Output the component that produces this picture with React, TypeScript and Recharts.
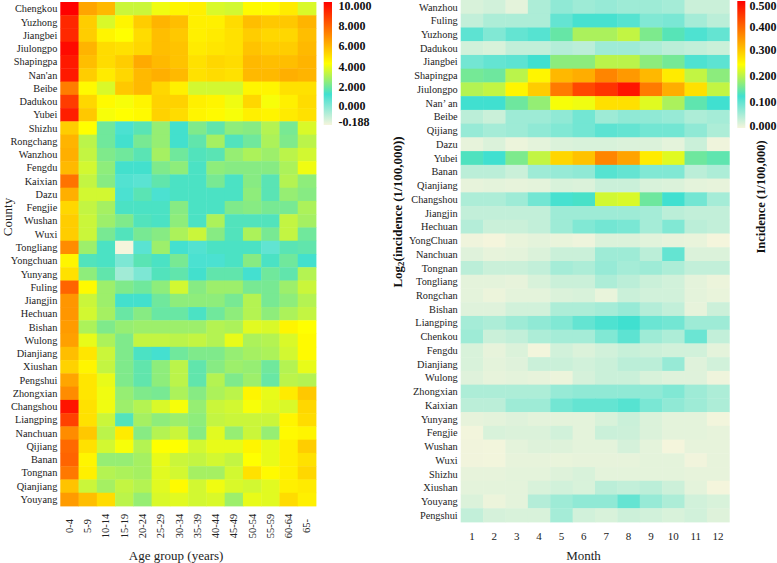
import React from 'react';
import { ScatterChart, Scatter, XAxis, YAxis } from 'recharts';

const ageGroups = ['0-4','5-9','10-14','15-19','20-24','25-29','30-34','35-39','40-44','45-49','50-54','55-59','60-64','65-'];
const months = ['1','2','3','4','5','6','7','8','9','10','11','12'];
const countiesLeft = ['Chengkou','Yuzhong','Jiangbei','Jiulongpo','Shapingpa',"Nan'an",'Beibe','Dadukou','Yubei','Shizhu','Rongchang','Wanzhou','Fengdu','Kaixian','Dazu','Fengjie','Wushan','Wuxi','Tongliang','Yongchuan','Yunyang','Fuling','Jiangjin','Hechuan','Bishan','Wulong','Dianjiang','Xiushan','Pengshui','Zhongxian','Changshou','Liangping','Nanchuan','Qijiang','Banan','Tongnan','Qianjiang','Youyang'];
const countiesRight = ['Wanzhou','Fuling','Yuzhong','Dadukou','Jiangbei','Shapingpa','Jiulongpo',"Nan’ an",'Beibe','Qijiang','Dazu','Yubei','Banan','Qianjiang','Changshou','Jiangjin','Hechuan','YongChuan','Nanchuan','Tongnan','Tongliang','Rongchan','Bishan','Liangping','Chenkou','Fengdu','Dianjiang','Wulong','Zhongxian','Kaixian','Yunyang','Fengjie','Wushan','Wuxi','Shizhu','Xiushan','Youyang','Pengshui'];

const ageValues = [
[10,6.7,6.3,4.2,4.2,4.7,5.1,5.2,4.4,4.3,5.0,5.0,5.3,4.4],
[9.2,5.9,4.4,5.1,5.9,6.4,6.2,5.2,5.2,5.6,6.2,6.0,6.0,6.4],
[9.2,5.9,5.1,4.9,5.6,6.2,6.0,5.2,5.3,5.5,5.9,5.7,5.7,6.2],
[9.8,6.4,5.6,5.5,5.7,6.2,6.1,5.3,5.4,5.5,6.1,5.9,5.9,6.3],
[9.5,6.2,5.6,5.9,6.6,6.3,6.1,5.5,5.7,5.6,6.3,6.2,6.2,6.4],
[9.5,5.9,5.3,5.7,6.3,6.5,6.3,5.5,5.6,5.5,6.3,6.3,6.5,6.4],
[7.5,5.0,4.4,6.0,6.3,5.7,5.2,4.3,4.3,4.3,5.1,5.1,5.5,5.5],
[8.8,5.7,5.0,4.8,5.1,5.8,5.8,5.2,5.1,4.7,5.7,4.8,5.2,5.6],
[9.4,6.0,4.8,4.9,5.0,5.8,5.6,5.1,5.0,4.8,5.2,5.1,5.3,5.5],
[5.9,4.9,3.0,2.2,2.7,3.5,2.4,3.2,2.8,3.4,3.3,3.9,3.1,4.4],
[6.4,4.0,3.0,2.4,3.1,3.5,2.4,2.8,3.7,2.6,3.0,3.8,3.2,4.0],
[6.5,4.1,3.2,3.0,2.7,3.7,3.0,2.6,2.7,3.5,3.8,3.6,4.0,4.3],
[6.3,4.3,3.4,2.4,2.4,3.2,3.4,2.5,3.4,3.3,3.3,3.3,3.8,4.7],
[7.7,4.1,3.3,2.1,2.0,2.8,2.5,2.5,3.1,2.5,3.3,2.7,3.9,3.4],
[6.5,4.3,4.3,2.2,2.7,2.2,2.5,2.5,2.5,2.5,3.4,2.7,3.5,3.3],
[5.7,4.1,3.7,2.5,2.5,2.5,3.3,2.5,2.5,3.2,3.3,3.1,3.1,3.8],
[5.9,4.2,3.6,3.2,2.6,2.5,3.4,2.5,3.8,2.6,2.6,2.6,4.1,3.7],
[5.9,4.2,3.1,2.6,3.1,3.3,3.8,4.2,3.3,2.6,3.8,3.1,4.1,3.0],
[7.2,3.6,2.5,-0.188,2.0,3.6,2.3,2.1,2.5,2.5,2.5,1.9,2.7,2.8],
[5.1,2.6,2.5,1.5,2.7,2.5,3.1,2.2,2.2,2.5,3.3,2.5,3.0,2.4],
[5.5,3.4,2.8,1.0,1.5,2.6,2.8,2.4,2.8,2.8,2.3,3.0,2.8,3.9],
[8.0,5.0,3.6,3.2,3.0,3.4,4.3,3.3,3.6,3.6,3.1,3.1,3.6,4.2],
[7.0,4.2,3.6,2.4,2.4,3.0,3.4,3.4,3.4,3.1,3.9,3.1,3.4,3.9],
[7.0,4.3,3.7,2.9,3.3,2.9,2.9,2.5,3.0,3.4,3.9,3.4,3.8,4.1],
[6.9,3.8,3.2,3.5,3.6,3.6,3.6,3.6,3.9,3.8,4.5,4.4,5.1,4.9],
[6.8,4.6,3.8,3.2,4.1,4.1,4.0,4.1,3.9,4.6,3.8,3.9,4.4,5.0],
[6.2,5.4,4.2,3.2,2.5,2.3,3.0,3.2,3.2,3.5,3.7,3.8,4.3,5.0],
[5.8,5.1,4.1,3.2,2.8,3.4,4.0,2.8,3.3,3.6,3.5,3.0,3.9,4.6],
[6.7,5.4,4.6,3.2,2.8,3.4,4.0,2.8,3.9,3.2,3.6,2.9,4.0,3.9],
[7.2,5.4,4.7,3.5,3.2,3.1,3.8,3.3,3.8,4.0,5.1,4.6,5.3,6.0],
[9.6,5.5,4.7,3.6,3.9,4.4,4.8,3.5,4.2,4.3,4.8,4.5,4.4,5.7],
[8.7,5.5,4.2,2.6,3.7,3.4,3.6,3.4,4.1,4.2,4.2,4.2,5.1,5.6],
[7.2,6.0,4.0,5.3,3.3,3.9,4.2,3.3,4.5,3.5,4.2,3.5,5.0,5.1],
[7.9,5.5,4.3,4.8,3.9,4.9,4.9,4.3,4.6,4.6,5.1,4.6,5.2,5.9],
[8.0,5.1,3.5,3.5,3.7,4.6,4.2,4.1,4.3,4.1,4.9,4.6,5.2,5.5],
[7.6,5.2,3.9,3.8,3.7,4.5,4.3,3.7,3.7,4.3,5.5,5.0,5.2,5.7],
[6.1,4.2,3.7,4.1,3.9,4.5,5.0,4.3,4.7,4.4,4.3,4.5,5.2,5.3],
[6.9,6.2,5.6,4.0,3.5,4.4,4.5,4.3,4.4,3.6,4.6,4.5,5.6,5.2],
];

const monthValues = [
[.02,.025,.012,.05,.07,.06,.065,.06,.06,.055,.03,.03],
[.035,.05,.05,.05,.1,.12,.12,.11,.08,.085,.055,.04],
[.105,.08,.1,.11,.15,.195,.195,.21,.165,.14,.115,.1],
[.025,.02,.035,.035,.045,.04,.06,.06,.05,.04,.035,.03],
[.09,.1,.105,.125,.175,.175,.205,.205,.175,.16,.115,.105],
[.16,.155,.205,.26,.32,.33,.37,.35,.32,.27,.21,.175],
[.2,.21,.26,.3,.38,.43,.45,.48,.38,.33,.28,.21],
[.125,.125,.155,.18,.245,.24,.28,.28,.23,.195,.145,.125],
[.04,.03,.06,.06,.07,.09,.06,.07,.07,.065,.05,.055],
[.065,.055,.06,.07,.08,.09,.105,.1,.09,.09,.07,.05],
[.01,.018,.006,.012,.018,.02,.02,.018,.018,.012,.03,.004],
[.135,.125,.165,.21,.29,.31,.37,.34,.27,.23,.155,.145],
[.04,.04,.03,.06,.065,.07,.11,.1,.08,.08,.04,.05],
[.01,.012,.01,.012,.02,.018,.03,.03,.02,.018,.012,.01],
[.05,.05,.06,.09,.12,.13,.22,.225,.155,.125,.09,.055],
[.035,.035,.035,.035,.06,.06,.06,.06,.055,.04,.035,.035],
[.045,.03,.03,.035,.06,.08,.09,.085,.055,.08,.04,.035],
[.004,.001,.008,.012,.008,.005,.018,.018,.014,.01,.008,.001],
[.015,.01,.012,.018,.03,.03,.06,.06,.04,.1,.018,.018],
[.04,.03,.03,.035,.055,.05,.065,.055,.06,.05,.035,.035],
[.012,.012,.01,.02,.03,.03,.05,.04,.03,.025,.012,.006],
[.012,.006,.012,.012,.018,.02,.008,.03,.025,.025,.012,.008],
[.015,.015,.025,.025,.05,.05,.055,.065,.045,.035,.01,.028],
[.055,.05,.06,.07,.08,.1,.115,.125,.095,.09,.06,.06],
[.06,.03,.035,.05,.055,.055,.08,.105,.06,.05,.095,.035],
[.02,.01,.018,.002,.025,.018,.025,.032,.028,.025,.025,.012],
[.02,.012,.015,.03,.03,.025,.03,.04,.04,.065,.015,.025],
[.015,.01,.012,.01,.006,.022,.03,.03,.02,.015,.015,.004],
[.05,.05,.05,.05,.065,.07,.07,.07,.07,.08,.06,.05],
[.04,.04,.06,.06,.09,.1,.1,.11,.085,.07,.06,.05],
[.01,.012,.015,.012,.012,.012,.02,.03,.018,.012,.012,.002],
[.002,.02,.018,.018,.025,.012,.03,.028,.018,.012,.012,.01],
[.003,.002,.012,.016,.016,.012,.012,.022,.012,.001,.01,.01],
[.003,.002,.01,.01,.008,.01,.01,.01,.012,.012,.003,.01],
[.01,.01,.012,.012,.016,.02,.012,.012,.012,.012,.01,.01],
[.012,.012,.012,.02,.025,.02,.04,.035,.04,.028,.012,.001],
[.018,.006,.012,.045,.06,.07,.07,.1,.065,.05,.025,.02],
[.035,.022,.02,.02,.055,.025,.02,.028,.025,.02,.025,.016],
];

const ageLegendTicks = ['10.000','8.000','6.000','4.000','2.000','0.000','-0.188'];
const monthLegendTicks = ['0.500','0.400','0.300','0.200','0.100','0.000'];

const SERIF = '"Liberation Serif", "Times New Roman", serif';
const RAMP: [number, number[]][] = [
  [0, [245, 245, 220]],
  [0.25, [64, 224, 208]],
  [0.5, [255, 255, 0]],
  [1, [255, 0, 0]],
];

function colorOf(t: number) {
  const f = Math.max(0, Math.min(1, t));
  for (let i = 1; i < RAMP.length; i++) {
    const [p1, c1] = RAMP[i];
    const [p0, c0] = RAMP[i - 1];
    if (f <= p1) {
      const k = (f - p0) / (p1 - p0);
      const c = c0.map((a, j) => Math.round(a + (c1[j] - a) * k));
      return `rgb(${c[0]},${c[1]},${c[2]})`;
    }
  }
  return 'rgb(255,0,0)';
}

function buildPoints(rows: string[], cols: string[], values: number[][]) {
  return rows.flatMap((row, r) => cols.map((col, c) => ({ row, col, value: values[r][c] })));
}

function cellShape(w: number, h: number, min: number, max: number) {
  return (p: any) => (
    <rect
      x={p.cx - w / 2}
      y={p.cy - h / 2}
      width={w + 0.4}
      height={h + 0.4}
      fill={colorOf((p.payload.value - min) / (max - min))}
      stroke="none"
    />
  );
}

const RotatedTick = (p: any) => (
  <text
    transform={`translate(${p.x + 3.5},${p.y + 14}) rotate(-90)`}
    textAnchor="middle"
    fontFamily={SERIF}
    fontSize={10.5}
    fill="#222"
  >
    {p.payload.value}
  </text>
);

function Heat(props: {
  width: number; height: number; margin: any; yWidth: number; xHeight: number;
  rows: string[]; cols: string[]; values: number[][]; min: number; max: number;
  xLabel: string; xLabelOffset: number; xLabelDx: number; xTick?: any; xTickSize: number; style: any;
}) {
  const { width, height, margin, yWidth, xHeight, rows, cols, values, min, max } = props;
  const plotW = width - margin.left - margin.right - yWidth;
  const plotH = height - margin.top - margin.bottom - xHeight;
  const w = plotW / cols.length;
  const h = plotH / rows.length;
  return (
    <div style={props.style}>
      <ScatterChart width={width} height={height} margin={margin}>
        <XAxis
          type="category"
          dataKey="col"
          scale="band"
          domain={cols}
          ticks={cols}
          allowDuplicatedCategory={false}
          interval={0}
          axisLine={false}
          tickLine={false}
          height={xHeight}
          tick={props.xTick ?? { fontFamily: SERIF, fontSize: props.xTickSize, fill: '#222' }}
          tickMargin={props.xTick ? 0 : 4}
          label={{ value: props.xLabel, position: 'insideBottom', offset: props.xLabelOffset, dx: props.xLabelDx, fontFamily: SERIF, fontSize: 13, fill: '#222' }}
        />
        <YAxis
          type="category"
          dataKey="row"
          scale="band"
          reversed
          domain={rows}
          ticks={rows}
          allowDuplicatedCategory={false}
          interval={0}
          width={yWidth}
          axisLine={false}
          tickLine={false}
          tickMargin={3}
          tickSize={0}
          tick={{ fontFamily: SERIF, fontSize: 10.3, fill: '#222' }}
        />
        <Scatter
          data={buildPoints(rows, cols, values)}
          isAnimationActive={false}
          shape={cellShape(w, h, min, max)}
        />
      </ScatterChart>
    </div>
  );
}

function Overlay() {
  const labelStyle = { fontFamily: SERIF, fontSize: 12, fontWeight: 700, fill: '#111' } as const;
  const leftY = [10, 30, 50, 71, 91, 110, 126];
  const rightY = [10, 31, 54, 80, 106, 130];
  return (
    <svg width={777} height={563} style={{ position: 'absolute', left: 0, top: 0, pointerEvents: 'none' }}>
      <defs>
        <linearGradient id="ramp" x1="0" y1="1" x2="0" y2="0">
          {RAMP.map(([p, c]) => (
            <stop key={p} offset={p} stopColor={`rgb(${c[0]},${c[1]},${c[2]})`} />
          ))}
        </linearGradient>
      </defs>
      <rect x={323.7} y={2} width={8.3} height={123} fill="url(#ramp)" />
      {ageLegendTicks.map((t, i) => (
        <text key={t} x={338.5} y={leftY[i]} {...labelStyle}>{t}</text>
      ))}
      <rect x={737.3} y={1} width={8} height={127} fill="url(#ramp)" />
      {monthLegendTicks.map((t, i) => (
        <text key={t} x={749.5} y={rightY[i]} {...labelStyle}>{t}</text>
      ))}
      <text transform="translate(765,197) rotate(-90)" textAnchor="middle" fontFamily={SERIF} fontSize={12.5} fontWeight={700} fill="#111">
        Incidence (1/100,000)
      </text>
      <text transform="translate(402,212) rotate(-90)" textAnchor="middle" fontFamily={SERIF} fontSize={13} fontWeight={700} fill="#111">
        Log<tspan fontSize={9} dy={2}>2</tspan><tspan dy={-2}>(incidence (1/100,000))</tspan>
      </text>
      <text transform="translate(11.5,217) rotate(-90)" textAnchor="middle" fontFamily={SERIF} fontSize={13} fill="#222">
        County
      </text>
    </svg>
  );
}

export default function App() {
  return (
    <div style={{ position: 'absolute', left: 0, top: 0, width: 777, height: 563, background: '#fff', overflow: 'hidden' }}>
      <Heat
        style={{ position: 'absolute', left: 0, top: 0 }}
        width={330} height={563}
        margin={{ top: 2, right: 14, bottom: 0, left: 0 }}
        yWidth={60.3} xHeight={57}
        rows={countiesLeft} cols={ageGroups} values={ageValues}
        min={-0.188} max={10}
        xLabel="Age group (years)" xLabelOffset={3} xLabelDx={-12}
        xTick={<RotatedTick />} xTickSize={10.5}
      />
      <Heat
        style={{ position: 'absolute', left: 390, top: 0 }}
        width={345} height={563}
        margin={{ top: 0, right: 5.7, bottom: 0, left: 0 }}
        yWidth={70.7} xHeight={41}
        rows={countiesRight} cols={months} values={monthValues}
        min={0} max={0.5}
        xLabel="Month" xLabelOffset={3} xLabelDx={-11.5}
        xTickSize={11}
      />
      <Overlay />
    </div>
  );
}
